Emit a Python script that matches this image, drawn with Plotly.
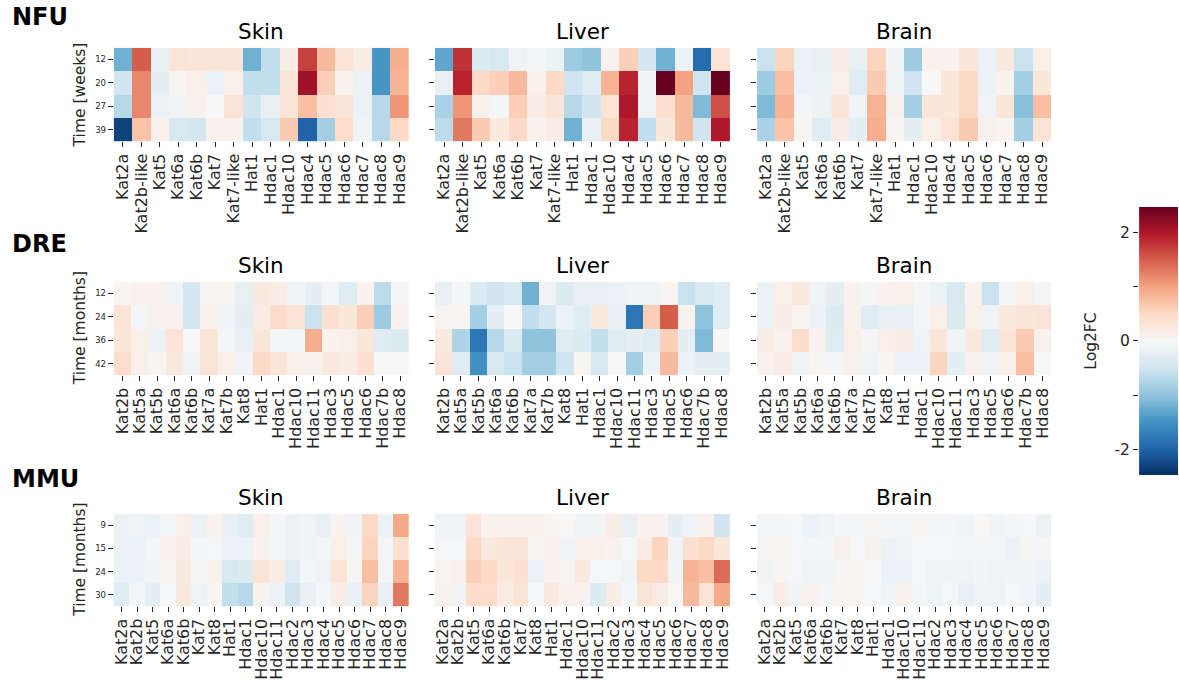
import numpy as np
import plotly.graph_objects as go

W, H = 1179, 680
FONT = "DejaVu Sans"
TXT = "#262626"

tissues = ["Skin", "Liver", "Brain"]
species = ["NFU", "DRE", "MMU"]
ylabels = ["Time [weeks]", "Time [months]", "Time [months]"]

nfu_rows = ["12", "20", "27", "39"]
dre_rows = ["12", "24", "36", "42"]
mmu_rows = ["9", "15", "24", "30"]

nfu_genes = ["Kat2a", "Kat2b-like", "Kat5", "Kat6a", "Kat6b", "Kat7", "Kat7-like", "Hat1",
             "Hdac1", "Hdac10", "Hdac4", "Hdac5", "Hdac6", "Hdac7", "Hdac8", "Hdac9"]
dre_genes = ["Kat2b", "Kat5a", "Kat5b", "Kat6a", "Kat6b", "Kat7a", "Kat7b", "Kat8", "Hat1",
             "Hdac1", "Hdac10", "Hdac11", "Hdac3", "Hdac5", "Hdac6", "Hdac7b", "Hdac8"]
mmu_genes = ["Kat2a", "Kat2b", "Kat5", "Kat6a", "Kat6b", "Kat7", "Kat8", "Hat1", "Hdac1",
             "Hdac10", "Hdac11", "Hdac2", "Hdac3", "Hdac4", "Hdac5", "Hdac6", "Hdac7", "Hdac8", "Hdac9"]

# Log2FC per gene (column), values listed for the four time points (top to bottom)
nfu_skin = [
    [-1.2, -0.5, -0.7, -2.3], [1.5, 1.2, 1.2, 0.7], [-0.2, -0.25, -0.15, 0.1],
    [0.35, 0.05, -0.1, -0.4], [0.3, 0.15, 0.1, -0.45], [0.3, -0.15, 0.0, 0.1],
    [0.3, 0.15, 0.35, 0.1], [-1.2, -0.6, -0.5, -0.6], [-0.6, -0.6, -0.2, -0.4],
    [0.2, 0.35, 0.35, 0.65], [1.7, 2.1, 0.75, -2.0], [0.8, 0.6, 0.4, -0.85],
    [0.35, 0.1, 0.35, 0.45], [0.2, -0.15, -0.15, -0.1], [-1.45, -1.45, -0.7, -0.7],
    [0.9, 0.85, 1.1, 0.5],
]
nfu_liver = [
    [-1.3, -0.2, -0.8, -0.65], [1.8, 1.9, 1.1, 1.3], [-0.35, 0.5, 0.1, 0.65],
    [-0.4, 0.6, -0.05, 0.25], [-0.1, 0.8, 0.6, 0.5], [-0.05, 0.1, 0.2, 0.1],
    [-0.15, 0.5, 0.3, 0.2], [-0.9, -0.5, -0.7, -1.2], [-1.0, -0.3, -0.5, -0.2],
    [0.1, 0.85, 0.35, 0.5], [0.6, 1.9, 2.0, 1.9], [-0.45, -0.1, -0.1, -0.6],
    [-1.2, 2.47, 0.4, 0.3], [-0.15, 1.0, 0.8, 0.8], [-1.9, -0.5, -1.1, -0.5],
    [0.35, 2.47, 1.6, 2.0],
]
nfu_brain = [
    [-0.55, -0.9, -1.1, -0.8], [0.55, 0.75, 0.85, 0.7], [-0.15, -0.15, -0.05, 0.05],
    [-0.2, -0.15, -0.15, -0.3], [0.2, 0.15, 0.3, 0.2], [-0.2, -0.3, -0.1, -0.25],
    [0.55, 0.65, 0.85, 0.9], [-0.1, -0.1, 0.1, 0.05], [-0.9, -0.5, -0.85, -0.25],
    [0.1, 0.0, 0.3, 0.15], [0.1, 0.3, 0.3, 0.35], [0.3, 0.5, 0.5, 0.65],
    [-0.15, -0.15, -0.1, 0.1], [0.25, 0.1, 0.3, 0.05], [-0.55, -0.85, -1.05, -0.85],
    [0.15, 0.3, 0.75, 0.35],
]
dre_skin = [
    [0.05, 0.35, 0.3, 0.45], [0.1, -0.05, 0.15, 0.15], [0.1, 0.1, -0.15, 0.05],
    [-0.1, 0.1, 0.35, 0.25], [-0.45, -0.45, 0.0, -0.1], [0.05, 0.1, 0.35, 0.35],
    [0.05, -0.1, -0.05, 0.15], [-0.2, -0.25, -0.2, -0.1], [0.25, 0.2, 0.3, 0.5],
    [0.2, 0.45, -0.05, 0.3], [-0.1, 0.35, -0.05, 0.15], [-0.25, -0.55, 0.9, 0.1],
    [-0.05, 0.4, 0.1, 0.25], [-0.3, 0.3, 0.15, 0.2], [0.1, 0.6, 0.3, 0.4],
    [-0.65, -0.9, -0.3, 0.0], [-0.05, 0.1, -0.35, 0.0],
]
dre_liver = [
    [-0.2, 0.05, 0.25, 0.35], [-0.05, 0.05, -0.75, -0.3], [-0.35, -0.85, -1.8, -1.5],
    [-0.5, -0.25, -0.7, -0.4], [-0.4, 0.0, -0.35, -0.55], [-1.2, -0.6, -1.0, -0.85],
    [-0.1, -0.45, -1.0, -0.85], [-0.35, -0.15, -0.3, -0.5], [-0.2, -0.3, -0.35, 0.05],
    [-0.2, 0.25, -0.6, -0.4], [-0.15, -0.2, -0.3, 0.0], [-0.1, -1.8, -0.25, -0.85],
    [-0.1, 0.6, -0.3, -0.15], [0.05, 1.5, 0.6, 0.8], [-0.55, 0.1, -0.25, -0.15],
    [-0.4, -1.0, -1.1, -0.25], [-0.3, -0.3, 0.0, -0.25],
]
dre_brain = [
    [-0.15, -0.15, 0.2, 0.1], [0.15, 0.2, 0.1, 0.2], [0.25, 0.05, 0.45, -0.1],
    [-0.1, -0.15, 0.1, 0.05], [-0.25, -0.35, -0.3, -0.05], [0.1, 0.1, 0.15, 0.1],
    [-0.05, -0.3, -0.05, -0.1], [0.1, -0.2, 0.15, 0.05], [0.15, -0.2, 0.2, -0.15],
    [-0.05, -0.05, -0.1, -0.15], [-0.15, 0.15, 0.3, 0.55], [-0.4, -0.35, -0.1, -0.25],
    [0.1, 0.15, 0.25, 0.1], [-0.55, -0.1, -0.3, -0.1], [-0.05, 0.25, 0.35, 0.15],
    [0.15, 0.3, 0.65, 0.75], [-0.05, 0.35, 0.1, 0.0],
]
mmu_skin = [
    [-0.15, -0.15, -0.15, -0.3], [-0.1, -0.15, -0.15, -0.05], [-0.15, -0.05, -0.1, -0.25],
    [-0.05, 0.1, 0.05, -0.02], [0.15, 0.2, 0.25, 0.25], [-0.15, -0.05, -0.05, -0.1],
    [0.08, -0.03, 0.08, 0.05], [-0.2, -0.15, -0.4, -0.6], [-0.3, -0.15, -0.35, -0.7],
    [0.15, 0.1, 0.35, 0.08], [-0.05, -0.05, 0.2, -0.15], [-0.15, -0.15, -0.3, -0.5],
    [-0.1, -0.1, -0.05, -0.2], [-0.2, -0.05, -0.1, -0.05], [0.08, 0.15, 0.35, 0.2],
    [-0.1, -0.05, 0.03, -0.2], [0.5, 0.55, 0.75, 0.55], [-0.15, -0.05, -0.05, -0.2],
    [0.95, 0.4, 0.85, 1.3],
]
mmu_liver = [
    [-0.1, -0.03, 0.05, 0.1], [-0.1, -0.03, 0.1, -0.08], [0.35, 0.5, 0.6, 0.45],
    [0.1, 0.25, 0.5, 0.45], [0.1, 0.3, 0.3, 0.2], [0.1, 0.3, 0.4, 0.35],
    [0.1, 0.05, -0.15, -0.03], [0.05, 0.1, 0.1, 0.25], [0.02, -0.1, 0.05, 0.1],
    [-0.1, 0.15, 0.25, 0.1], [-0.1, 0.15, -0.02, -0.35], [0.2, 0.1, -0.02, 0.2],
    [-0.2, -0.02, -0.1, -0.05], [0.1, 0.2, 0.5, 0.35], [0.1, 0.55, 0.5, 0.2],
    [-0.25, -0.08, -0.08, 0.02], [-0.1, 0.4, 0.85, 0.8], [0.1, 0.5, 0.75, 0.35],
    [-0.5, 0.3, 1.4, 0.95],
]
mmu_brain = [
    [-0.05, 0.03, -0.08, -0.03], [-0.05, 0.05, 0.05, 0.2], [-0.03, -0.03, -0.03, -0.08],
    [-0.15, -0.05, -0.08, 0.1], [-0.1, -0.05, -0.08, -0.05], [-0.05, 0.12, 0.03, 0.05],
    [-0.05, -0.02, 0.03, 0.05], [0.03, 0.08, 0.0, -0.03], [-0.05, -0.15, -0.15, -0.08],
    [-0.05, -0.1, -0.15, 0.08], [0.03, -0.03, -0.03, -0.05], [-0.05, -0.03, -0.12, -0.12],
    [-0.05, -0.03, -0.1, -0.03], [-0.08, -0.05, -0.1, -0.2], [0.02, -0.05, -0.07, -0.08],
    [-0.08, -0.05, -0.1, -0.1], [-0.05, -0.15, -0.08, -0.02], [-0.03, 0.05, -0.08, -0.08],
    [-0.15, -0.05, -0.15, -0.25],
]

ZMIN, ZMAX = -2.47, 2.47
rdbu_r = [
    [0.0, "rgb(5,48,97)"], [0.1, "rgb(33,102,172)"], [0.2, "rgb(67,147,195)"],
    [0.3, "rgb(146,197,222)"], [0.4, "rgb(209,229,240)"], [0.5, "rgb(247,247,247)"],
    [0.6, "rgb(253,219,199)"], [0.7, "rgb(244,165,130)"], [0.8, "rgb(214,96,77)"],
    [0.9, "rgb(178,24,43)"], [1.0, "rgb(103,0,31)"],
]

panels = [
    (nfu_genes, nfu_rows, [nfu_skin, nfu_liver, nfu_brain]),
    (dre_genes, dre_rows, [dre_skin, dre_liver, dre_brain]),
    (mmu_genes, mmu_rows, [mmu_skin, mmu_liver, mmu_brain]),
]

# layout geometry in pixels
col_x = [(112, 408), (434, 730), (757, 1052)]
row_y = [(48, 142), (283, 377), (516, 609)]
row_label_y = [17, 245, 481]
title_y = [32, 267, 500]

fig = go.Figure()
layout = {}
annotations = []
k = 0
for r, (genes, times, mats) in enumerate(panels):
    y0, y1 = row_y[r]
    for c, cols in enumerate(mats):
        k += 1
        z = [list(t) for t in zip(*cols)]
        xa = "x" if k == 1 else f"x{k}"
        ya = "y" if k == 1 else f"y{k}"
        fig.add_trace(go.Heatmap(
            z=z, x=genes, y=times, xaxis=xa, yaxis=ya,
            colorscale=rdbu_r, zmin=ZMIN, zmax=ZMAX, showscale=False,
        ))
        x0, x1 = col_x[c]
        axk = "" if k == 1 else str(k)
        layout["xaxis" + axk] = dict(
            domain=[x0 / W, x1 / W], anchor=ya, type="category",
            showgrid=False, zeroline=False, showline=False,
            ticks="outside", ticklen=5, tickwidth=1, tickcolor=TXT,
            tickangle=-90, tickfont=dict(family=FONT, size=16, color=TXT),
            tickmode="array", tickvals=genes, ticktext=genes,
        )
        layout["yaxis" + axk] = dict(
            domain=[1 - y1 / H, 1 - y0 / H], anchor=xa, type="category",
            autorange="reversed", showgrid=False, zeroline=False, showline=False,
            ticks="outside", ticklen=5, tickwidth=1, tickcolor=TXT,
            showticklabels=(c == 0), tickfont=dict(family=FONT, size=8.5, color=TXT),
        )
        annotations.append(dict(
            text=tissues[c], x=(x0 + x1) / 2 / W, y=1 - title_y[r] / H,
            xref="paper", yref="paper", xanchor="center", yanchor="middle",
            showarrow=False, font=dict(family=FONT, size=21.5, color="#000000"),
        ))
    annotations.append(dict(
        text="<b>" + species[r] + "</b>", x=8 / W, y=1 - row_label_y[r] / H,
        xref="paper", yref="paper", xanchor="left", yanchor="middle",
        showarrow=False, font=dict(family=FONT, size=24, color="#000000"),
    ))
    annotations.append(dict(
        text=ylabels[r], x=78 / W, y=1 - (y0 + y1) / 2 / H,
        xref="paper", yref="paper", xanchor="center", yanchor="middle",
        textangle=-90, showarrow=False, font=dict(family=FONT, size=15.5, color=TXT),
    ))

# colour bar drawn as its own small axis so tick labels can sit on the left
cb_vals = np.linspace(ZMIN, ZMAX, 300)
k += 1
fig.add_trace(go.Heatmap(
    z=[[v] for v in cb_vals], x=[0], y=cb_vals, xaxis=f"x{k}", yaxis=f"y{k}",
    colorscale=rdbu_r, zmin=ZMIN, zmax=ZMAX, showscale=False, hoverinfo="skip",
))
cb_top, cb_bot = 208, 477
layout[f"xaxis{k}"] = dict(domain=[1140 / W, 1.0], anchor=f"y{k}", visible=False)
layout[f"yaxis{k}"] = dict(
    domain=[1 - cb_bot / H, 1 - cb_top / H], anchor=f"x{k}", side="left",
    range=[ZMIN, ZMAX], showgrid=False, zeroline=False, showline=False,
    ticks="outside", ticklen=5, tickwidth=1, tickcolor=TXT,
    tickmode="array", tickvals=[-2, -1, 0, 1, 2], ticktext=["-2", "", "0", "", "2"],
    tickfont=dict(family=FONT, size=15.5, color=TXT),
)
annotations.append(dict(
    text="Log2FC", x=1092 / W, y=1 - 343 / H, xref="paper", yref="paper",
    xanchor="center", yanchor="middle", textangle=-90, showarrow=False,
    font=dict(family=FONT, size=15.5, color=TXT),
))

fig.update_layout(
    width=W, height=H, margin=dict(l=0, r=0, t=0, b=0),
    paper_bgcolor="white", plot_bgcolor="white",
    annotations=annotations, showlegend=False, **layout,
)
fig.write_html("out.html")
